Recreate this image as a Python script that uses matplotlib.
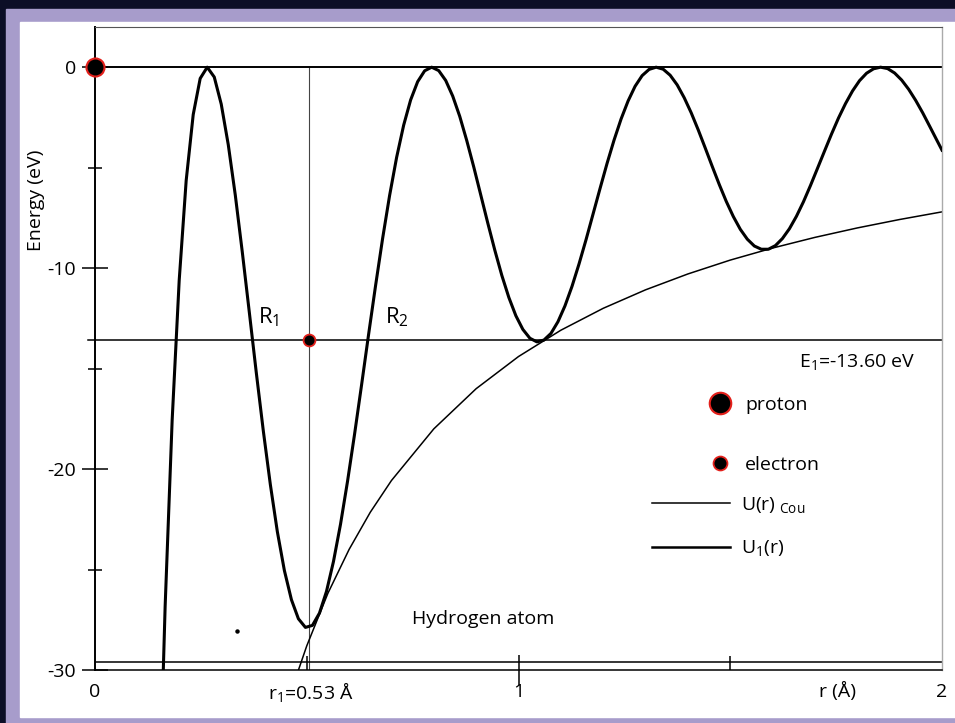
import matplotlib.pyplot as plt
from matplotlib.lines import Line2D
from matplotlib.patches import Rectangle

plt.rcParams['font.family'] = ['Open Sans', 'DejaVu Sans']
plt.rcParams['font.size'] = 14
plt.rcParams['mathtext.default'] = 'regular'
plt.rcParams['axes.unicode_minus'] = False

# U1(r) curve (r in Angstrom, energy in eV)
r_u1 = [0.1491, 0.1656, 0.1822, 0.1988, 0.2153, 0.2319, 0.2484, 0.265,
        0.2816, 0.2981, 0.3147, 0.3313, 0.3478, 0.3644, 0.3809, 0.3975,
        0.4141, 0.4306, 0.4472, 0.4638, 0.4803, 0.4969, 0.5134, 0.53,
        0.5466, 0.5631, 0.5797, 0.5963, 0.6128, 0.6294, 0.6459, 0.6625,
        0.6791, 0.6956, 0.7122, 0.7288, 0.7453, 0.7619, 0.7784, 0.795,
        0.8116, 0.8281, 0.8447, 0.8613, 0.8778, 0.8944, 0.9109, 0.9275,
        0.9441, 0.9606, 0.9772, 0.9938, 1.0103, 1.0269, 1.0434, 1.06,
        1.0766, 1.0931, 1.1097, 1.1263, 1.1428, 1.1594, 1.1759, 1.1925,
        1.2091, 1.2256, 1.2422, 1.2588, 1.2753, 1.2919, 1.3084, 1.325,
        1.3416, 1.3581, 1.3747, 1.3913, 1.4078, 1.4244, 1.4409, 1.4575,
        1.4741, 1.4906, 1.5072, 1.5238, 1.5403, 1.5569, 1.5734, 1.59,
        1.6066, 1.6231, 1.6397, 1.6563, 1.6728, 1.6894, 1.7059, 1.7225,
        1.7391, 1.7556, 1.7722, 1.7888, 1.8053, 1.8219, 1.8384, 1.855,
        1.8716, 1.8881, 1.9047, 1.9213, 1.9378, 1.9544, 1.9709, 1.9875, 2.0]
u1 = [-38.88, -26.84, -17.56, -10.61, -5.64, -2.36, -0.56, 0,
      -0.49, -1.84, -3.86, -6.37, -9.20, -12.20, -15.21, -18.11,
      -20.78, -23.12, -25.05, -26.50, -27.45, -27.88, -27.78, -27.17,
      -26.09, -24.60, -22.75, -20.61, -18.28, -15.82, -13.32, -10.87,
      -8.53, -6.39, -4.49, -2.89, -1.63, -0.72, -0.18, 0,
      -0.17, -0.66, -1.44, -2.45, -3.65, -4.97, -6.36, -7.76,
      -9.11, -10.36, -11.46, -12.37, -13.05, -13.49, -13.67, -13.58,
      -13.25, -12.67, -11.88, -10.91, -9.80, -8.59, -7.32, -6.04,
      -4.79, -3.63, -2.58, -1.68, -0.95, -0.42, -0.11, 0,
      -0.10, -0.40, -0.88, -1.52, -2.27, -3.12, -4.02, -4.94,
      -5.84, -6.68, -7.43, -8.07, -8.56, -8.90, -9.06, -9.06,
      -8.88, -8.53, -8.04, -7.42, -6.70, -5.89, -5.04, -4.18,
      -3.33, -2.53, -1.81, -1.18, -0.67, -0.30, -0.08, 0,
      -0.07, -0.29, -0.64, -1.10, -1.65, -2.27, -2.94, -3.62, -4.13]

# Coulomb potential
r_cou = [0.47, 0.5, 0.55, 0.6, 0.65, 0.7, 0.8, 0.9, 1.0, 1.1, 1.2, 1.3,
         1.4, 1.5, 1.6, 1.7, 1.8, 1.9, 2.0]
u_cou = [-30.64, -28.8, -26.18, -24.0, -22.15, -20.57, -18.0, -16.0, -14.4,
         -13.09, -12.0, -11.08, -10.29, -9.6, -9.0, -8.47, -8.0, -7.58, -7.2]

E1 = -13.6
r1_pos = 0.505
bottom_line = -29.6
yticks = [0, -10, -20, -30]
yticklabels = ['0', '-10', '-20', '-30']
yminor = [-5, -15, -25]
xmajor = [1]
xminor = [0.5, 1.5]
xlabels = ['0', 'r$_1$=0.53 Å', '1', 'r (Å)', '2']
xlabel_pos = [0, 0.408, 1, 1.709, 2]
xlabel_ha = ['center', 'left', 'center', 'left', 'center']

red = '#e3201b'

fig = plt.figure(figsize=(9.55, 7.23), dpi=100)
fig.patch.set_facecolor('#0c0e26')
fig.add_artist(Rectangle((6 / 955, 0), 1, 714 / 723, transform=fig.transFigure,
                         color='#a79ccb', zorder=-10))
fig.add_artist(Rectangle((20 / 955, 6 / 723), 1, 695 / 723, transform=fig.transFigure,
                         color='white', zorder=-9))

ax = fig.add_axes([95 / 955, 53 / 723, 847 / 955, 643 / 723])
ax.set_facecolor('none')
ax.set_xlim(0, 2)
ax.set_ylim(-30, 2)

ax.plot(r_u1, u1, color='black', lw=2.2, solid_joinstyle='round', zorder=3)
ax.plot(r_cou, u_cou, color='black', lw=1.1, zorder=2)
ax.axhline(0, color='black', lw=1.4, zorder=2)
ax.axhline(bottom_line, color='black', lw=1.1, zorder=2)
ax.plot([-0.017, 2], [E1, E1], color='black', lw=1.1, clip_on=False, zorder=2)
ax.vlines(r1_pos, -30, 0, color='#444444', lw=0.8, zorder=1)

# proton and electron
ax.plot(0, 0, 'o', ms=13, mfc='black', mec=red, mew=1.5, clip_on=False, zorder=6)
ax.plot(r1_pos, E1, 'o', ms=8.5, mfc='black', mec=red, mew=1.3, zorder=6)
ax.plot(0.335, -28.06, 'o', ms=2.2, color='black')

ax.text(0.385, -12.74, 'R$_1$', fontsize=16, va='baseline')
ax.text(0.685, -12.74, 'R$_2$', fontsize=16, va='baseline')
ax.text(1.662, -14.93, 'E$_1$=-13.60 eV', va='baseline')
ax.text(0.749, -27.71, 'Hydrogen atom', va='baseline')

# legend: particles and curves in two blocks
particle_handles = [
    Line2D([], [], ls='none', marker='o', ms=15.5, mfc='black', mec=red, mew=1.5),
    Line2D([], [], ls='none', marker='o', ms=10, mfc='black', mec=red, mew=1.3),
]
particle_labels = ['proton', 'electron']
curve_handles = [
    Line2D([], [], color='black', lw=1.1),
    Line2D([], [], color='black', lw=1.8),
]
curve_labels = ['U(r)$_{\\ Cou}$', 'U$_1$(r)']

leg1 = ax.legend(particle_handles, particle_labels, loc='upper left',
                 bbox_to_anchor=(0.7196, 0.426), frameon=False, handlelength=1.6,
                 handletextpad=0.5, labelspacing=2.14, borderpad=0, borderaxespad=0)
ax.add_artist(leg1)
ax.legend(curve_handles, curve_labels, loc='upper left',
          bbox_to_anchor=(0.6576, 0.272), frameon=False, handlelength=4.0,
          handletextpad=0.6, labelspacing=1.2, borderpad=0, borderaxespad=0)

# axes styling
for s in ['left', 'bottom']:
    ax.spines[s].set_color('black')
ax.spines['left'].set_linewidth(1.4)
ax.spines['bottom'].set_linewidth(1.1)
ax.spines['top'].set_color('#555555')
ax.spines['top'].set_linewidth(0.8)
ax.spines['right'].set_color('#aaaaaa')
ax.spines['right'].set_linewidth(1.0)

ax.set_yticks(yticks)
ax.set_yticklabels(yticklabels)
ax.set_yticks(yminor, minor=True)
ax.tick_params(axis='y', which='major', direction='inout', length=19, width=1.1, pad=4)
ax.tick_params(axis='y', which='minor', direction='inout', length=10, width=1.1)

ax.set_xticks(xmajor)
ax.set_xticks(xminor, minor=True)
ax.tick_params(axis='x', which='major', direction='inout', length=22, width=1.1,
               labelbottom=False)
ax.tick_params(axis='x', which='minor', direction='in', length=10, width=1.1)

for lab, pos, ha in zip(xlabels, xlabel_pos, xlabel_ha):
    ax.text(pos, -0.034, lab, transform=ax.get_xaxis_transform(), ha=ha, va='center')

ax.text(-0.0697, 0.731, 'Energy (eV)', transform=ax.transAxes, rotation=90,
        ha='center', va='center')

plt.savefig('out.png', dpi=100)
